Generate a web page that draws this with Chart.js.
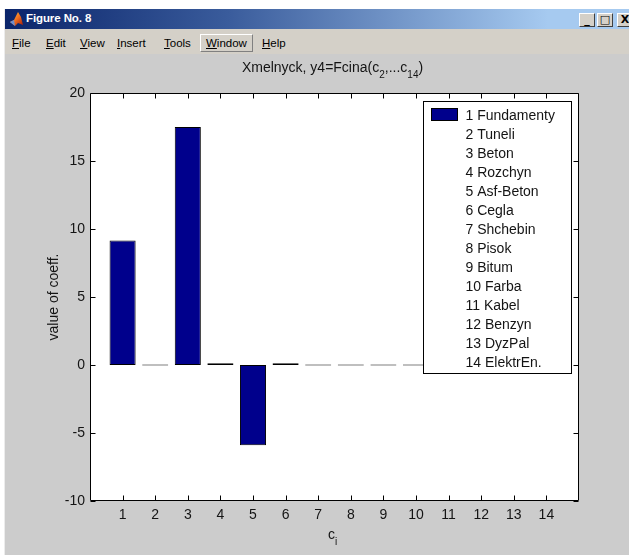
<!DOCTYPE html>
<html>
<head>
<meta charset="utf-8">
<script src="https://cdn.jsdelivr.net/npm/chart.js@4/dist/chart.umd.min.js"></script>
<style>
  html, body { margin: 0; padding: 0; }
  body { width: 629px; height: 555px; background: #ffffff; position: relative; overflow: hidden;
         font-family: "Liberation Sans", Arial, sans-serif; }
  #win { position: absolute; left: 4px; top: 9px; width: 640px; height: 546px; background: #cccccc;
         border-left: 1px solid #ececec; box-sizing: border-box; }
  #titlebar { position: absolute; left: 0; top: 0; right: 0; height: 20px;
              background: linear-gradient(to right, #0a246a 0%, #3a5c9c 35%, #a6caf0 85%, #a6caf0 100%); }
  #titlebar .caption { position: absolute; left: 21px; top: 3px; color: #ffffff; font-weight: bold;
                       font-size: 11.5px; letter-spacing: -0.1px; }
  #titlebar svg { position: absolute; left: 4px; top: 2px; }
  .btn { position: absolute; top: 4px; width: 16px; height: 14px; background: #d4d0c8;
         border-top: 1px solid #ffffff; border-left: 1px solid #ffffff;
         border-right: 1px solid #404040; border-bottom: 1px solid #404040; box-sizing: border-box;
         font: bold 11px "DejaVu Sans", sans-serif; color: #000; text-align: center; line-height: 11px; }
  #menubar { position: absolute; left: 0; top: 20px; right: 0; height: 25px; background: #d4d0c8; }
  #menubar span { position: absolute; top: 8px; font-size: 11.5px; color: #000; }
  #menubar span u { text-decoration: underline; }
  #menubar .raised { top: 5px; padding: 2px 5px 2px 5px; border-top: 1px solid #ffffff; border-left: 1px solid #ffffff;
                     border-right: 1px solid #808080; border-bottom: 1px solid #808080; }
  #plot { position: absolute; left: 0; top: 0; }
</style>
</head>
<body>
<div id="win">
  <div id="titlebar">
    <svg width="15" height="16" viewBox="0 0 15 16">
      <defs>
        <linearGradient id="peak" x1="0" y1="0" x2="1" y2="1">
          <stop offset="0" stop-color="#ffd040"/>
          <stop offset="0.5" stop-color="#f07020"/>
          <stop offset="1" stop-color="#a01808"/>
        </linearGradient>
      </defs>
      <polygon points="1,11 5,9 9,1 12,6 14,14 9,12 6,15" fill="url(#peak)"/>
      <polygon points="1,11 5,9 6,15" fill="#6b8fd0"/>
    </svg>
    <div class="caption">Figure No. 8</div>
    <div class="btn" style="left:574px">_</div>
    <div class="btn" style="left:592px">&#9633;</div>
    <div class="btn" style="left:612px">X</div>
  </div>
  <div id="menubar">
    <span style="left:7px"><u>F</u>ile</span>
    <span style="left:41px"><u>E</u>dit</span>
    <span style="left:75px"><u>V</u>iew</span>
    <span style="left:112px"><u>I</u>nsert</span>
    <span style="left:159px"><u>T</u>ools</span>
    <span class="raised" style="left:195px"><u>W</u>indow</span>
    <span style="left:257px"><u>H</u>elp</span>
  </div>
</div>
<canvas id="plot" width="629" height="555"></canvas>
<script>
// Coefficients c1..c14 of the fitted price model
const categories = [1, 2, 3, 4, 5, 6, 7, 8, 9, 10, 11, 12, 13, 14];
const coeffValues = [9.15, 0, 17.5, 0.12, -5.9, 0.12, 0, 0, 0, 0, 0, 0, 0, 0];
const yTicks = [-10, -5, 0, 5, 10, 15, 20];
const legendLabels = [
  '1 Fundamenty', '2 Tuneli', '3 Beton', '4 Rozchyn', '5 Asf-Beton', '6 Cegla',
  '7 Shchebin', '8 Pisok', '9 Bitum', '10 Farba', '11 Kabel', '12 Benzyn',
  '13 DyzPal', '14 ElektrEn.'
];
const titleParts = [['Xmelnyck, y4=Fcina(c', 0], ['2', 1], [',...c', 0], ['14', 1], [')', 0]];
const yLabel = 'value of coeff.';

const FONT = '"Liberation Sans", Arial, sans-serif';
const BAR_FILL = '#00008c';
const TEXT = '#141414';

function drawSubText(ctx, parts, cx, baseline) {
  const big = '14px ' + FONT, small = '10px ' + FONT;
  let total = 0;
  parts.forEach(([t, sub]) => { ctx.font = sub ? small : big; total += ctx.measureText(t).width; });
  let x = cx - total / 2;
  ctx.textAlign = 'left';
  ctx.textBaseline = 'alphabetic';
  parts.forEach(([t, sub]) => {
    ctx.font = sub ? small : big;
    ctx.fillText(t, x, baseline + (sub ? 6 : 0));
    x += ctx.measureText(t).width;
  });
}

const matlabAxes = {
  id: 'matlabAxes',
  beforeDraw(chart) {
    const { ctx, chartArea: a } = chart;
    ctx.save();
    ctx.fillStyle = '#ffffff';
    ctx.fillRect(a.left, a.top, a.right - a.left, a.bottom - a.top);
    ctx.restore();
  },
  afterDraw(chart) {
    const { ctx, chartArea: a } = chart;
    const xs = chart.scales.x, ys = chart.scales.y;
    const L = a.left + 0.5, R = a.right - 0.5, T = a.top + 0.5, B = a.bottom - 0.5;
    ctx.save();
    ctx.strokeStyle = '#000000';
    ctx.lineWidth = 1;
    ctx.beginPath();
    ctx.rect(L, T, R - L, B - T);
    // inward tick marks on all four sides
    categories.forEach(v => {
      const px = Math.round(xs.getPixelForValue(v)) + 0.5;
      ctx.moveTo(px, B); ctx.lineTo(px, B - 5);
      ctx.moveTo(px, T); ctx.lineTo(px, T + 5);
    });
    yTicks.forEach(v => {
      const py = Math.round(ys.getPixelForValue(v)) + 0.5;
      ctx.moveTo(L, py); ctx.lineTo(L + 5, py);
      ctx.moveTo(R, py); ctx.lineTo(R - 5, py);
    });
    ctx.stroke();

    // legend box, upper right inside the axes
    const rowH = 19, boxW = 148;
    const boxH = legendLabels.length * rowH + 6;
    const bx = Math.round(a.right - 8 - boxW) + 0.5, by = Math.round(a.top + 8) + 0.5;
    ctx.fillStyle = '#ffffff';
    ctx.fillRect(bx, by, boxW, boxH);
    ctx.strokeRect(bx, by, boxW, boxH);
    ctx.fillStyle = BAR_FILL;
    ctx.fillRect(bx + 8, by + 7, 26, 12);
    ctx.strokeRect(bx + 8, by + 7, 26, 12);
    ctx.fillStyle = TEXT;
    ctx.font = '14px ' + FONT;
    ctx.textAlign = 'left';
    ctx.textBaseline = 'alphabetic';
    legendLabels.forEach((t, i) => ctx.fillText(t, bx + 42, by + 18 + i * rowH));

    // title, x label, y label
    const cx = (a.left + a.right) / 2;
    drawSubText(ctx, titleParts, cx - 2, a.top - 21);
    drawSubText(ctx, [['c', 0], ['i', 1]], cx - 2, a.bottom + 38);
    ctx.save();
    ctx.translate(58, (a.top + a.bottom) / 2);
    ctx.rotate(-Math.PI / 2);
    ctx.font = '14px ' + FONT;
    ctx.textAlign = 'center';
    ctx.textBaseline = 'alphabetic';
    ctx.fillText(yLabel, 0, 0);
    ctx.restore();
    ctx.restore();
  }
};

new Chart(document.getElementById('plot'), {
  type: 'bar',
  data: {
    datasets: [{
      data: categories.map((c, i) => ({ x: c, y: coeffValues[i] })),
      backgroundColor: BAR_FILL,
      borderColor: '#000000',
      borderWidth: 1,
      borderSkipped: false,
      minBarLength: 1,
      barPercentage: 0.8,
      categoryPercentage: 1
    }]
  },
  options: {
    responsive: false,
    devicePixelRatio: 1,
    animation: false,
    events: [],
    layout: { padding: { left: 0, top: 93, right: 50, bottom: 0 } },
    plugins: { legend: { display: false }, title: { display: false }, tooltip: { enabled: false } },
    scales: {
      x: {
        type: 'linear', min: 0, max: 15, offset: false,
        grid: { display: false, drawTicks: false, offset: false },
        border: { display: false },
        ticks: {
          stepSize: 1, autoSkip: false, maxRotation: 0, padding: 6,
          font: { family: FONT, size: 14 }, color: TEXT,
          callback: v => categories.includes(v) ? String(v) : ''
        },
        afterFit: s => { s.height = 54; }
      },
      y: {
        min: -10, max: 20,
        grid: { display: false, drawTicks: false },
        border: { display: false },
        ticks: { stepSize: 5, padding: 5, font: { family: FONT, size: 14 }, color: TEXT },
        afterFit: s => { s.width = 90; }
      }
    }
  },
  plugins: [matlabAxes]
});
</script>
</body>
</html>
